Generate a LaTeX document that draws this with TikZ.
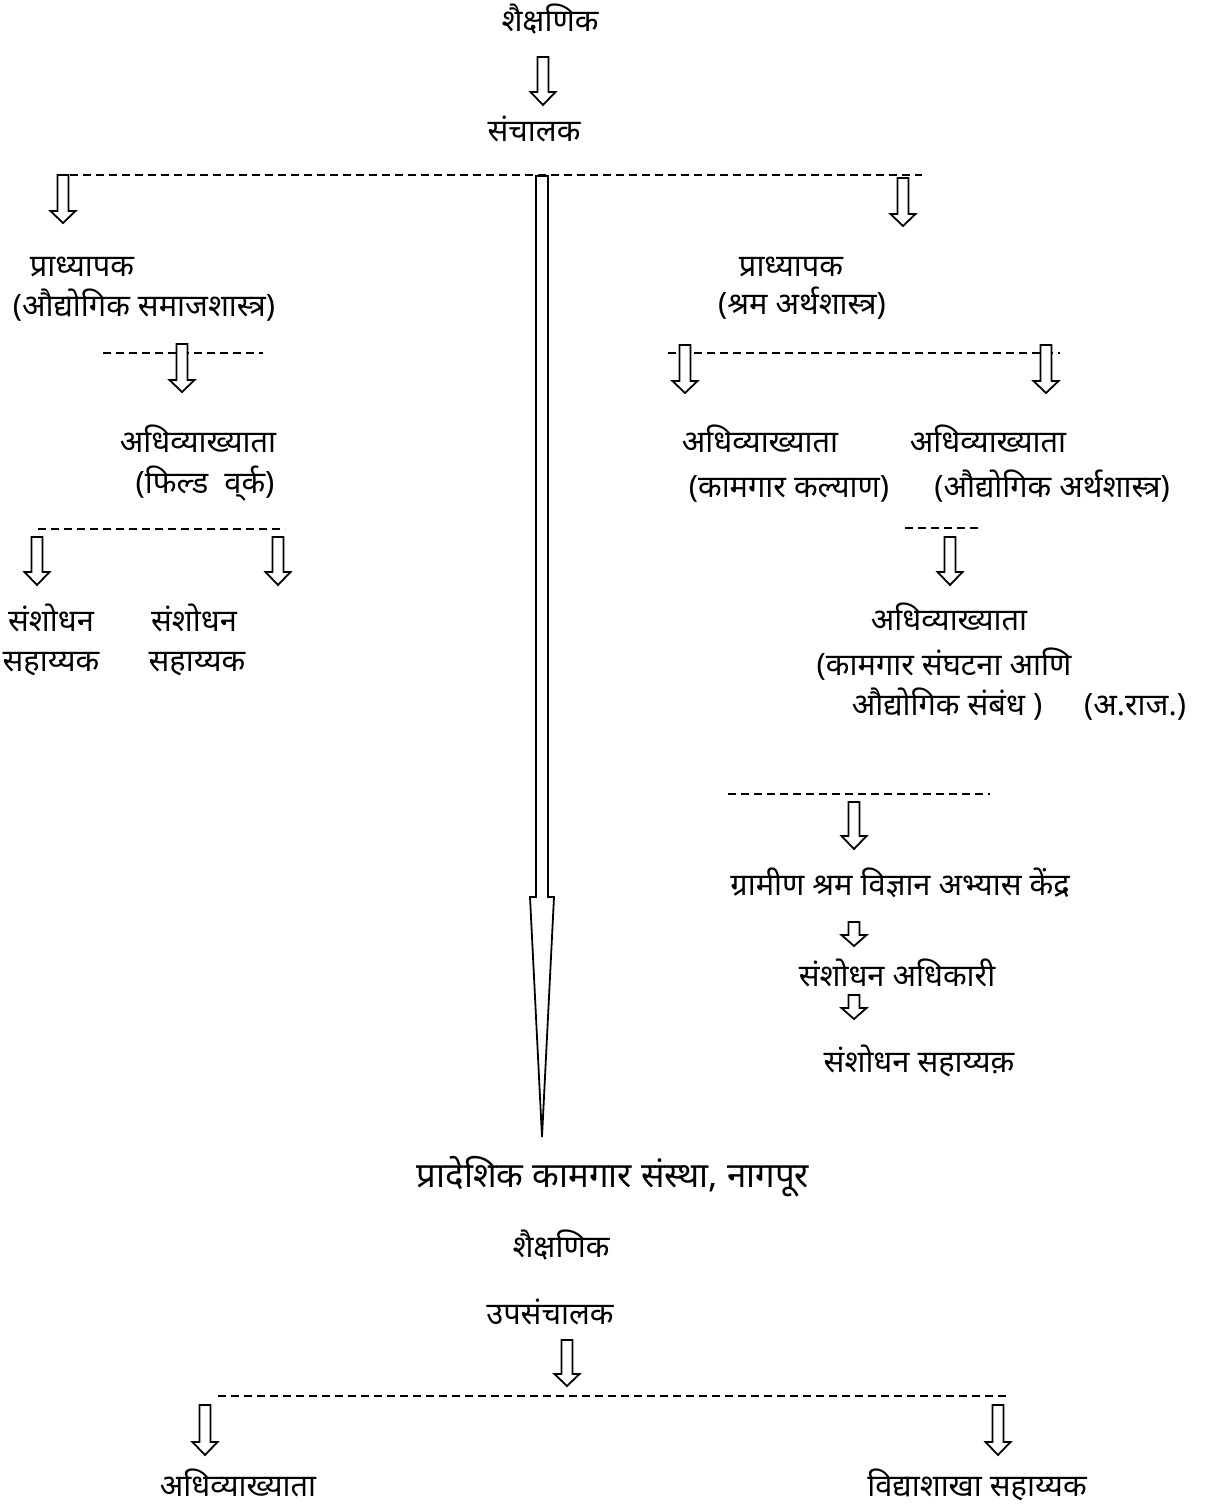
\documentclass[tikz,border=0pt]{standalone}
\usepackage{fontspec}
\newfontfamily\dev[Script=Devanagari]{Noto Sans}
\tikzset{
  lbl/.style={font={\dev\fontsize{15.4}{18}\selectfont}, inner sep=0pt, anchor=base},
  big/.style={lbl, font={\dev\fontsize{17.4}{21}\selectfont}},
  blk/.style={draw=black, fill=white, line width=0.9pt, line join=miter},
  dsh/.style={draw=black, line width=0.65pt, dash pattern=on 4pt off 2.5pt}
}
\newcommand\blkarr[5]{% name, x, ytop, ytip, head length
  \coordinate (#1) at (#2,#3);
  \draw[blk] (#2-5.5,#3) -- (#2+5.5,#3) -- (#2+5.5,#4-#5) -- (#2+12.5,#4-#5)
    -- (#2,#4) -- (#2-12.5,#4-#5) -- (#2-5.5,#4-#5) -- cycle;}
\begin{document}
\begin{tikzpicture}[x=0.5pt,y=-0.5pt]
\path[use as bounding box] (0,0) rectangle (1204,1507);

% texts
\node[lbl] (t1) at (550,32) {शैक्षणिक};
\node[lbl] (t2) at (534,142) {संचालक};

\node[lbl] (lp1) at (82,277) {प्राध्यापक};
\node[lbl] (lp2) at (144,317) {(औद्योगिक समाजशास्त्र)};
\node[lbl] (ll1) at (198,453) {अधिव्याख्याता};
\node[lbl] (ll2) at (205,494) {(फिल्ड\ \ व्^^^^200cर्क)};
\node[lbl] (sa1) at (51,631) {संशोधन};
\node[lbl] (sa2) at (51,671) {सहाय्यक};
\node[lbl] (sb1) at (194,631) {संशोधन};
\node[lbl] (sb2) at (197,671) {सहाय्यक};

\node[lbl] (rp1) at (791,277) {प्राध्यापक};
\node[lbl] (rp2) at (802,315) {(श्रम अर्थशास्त्र)};
\node[lbl] (ra1) at (760,453) {अधिव्याख्याता};
\node[lbl] (ra2) at (789,497) {(कामगार कल्याण)};
\node[lbl] (rb1) at (988,453) {अधिव्याख्याता};
\node[lbl] (rb2) at (1052,497) {(औद्योगिक अर्थशास्त्र)};
\node[lbl] (rc1) at (949,630) {अधिव्याख्याता};
\node[lbl] (rc2) at (944,675) {(कामगार संघटना आणि};
\node[lbl] (rc3) at (947,715) {औद्योगिक संबंध )};
\node[lbl] (rc4) at (1135,715) {(अ.राज.)};
\node[lbl] (g1) at (900,895) {ग्रामीण श्रम विज्ञान अभ्यास केंद्र};
\node[lbl] (g2) at (897,986) {संशोधन अधिकारी};
\node[lbl] (g3) at (919,1072) {संशोधन सहाय्यक़};

\node[big] (b0) at (613,1187) {प्रादेशिक कामगार संस्था, नागपूर};
\node[lbl] (b1) at (561,1257) {शैक्षणिक};
\node[lbl] (b2) at (550,1324) {उपसंचालक};
\node[lbl] (b3) at (238,1496) {अधिव्याख्याता};
\node[lbl] (b4) at (977,1496) {विद्याशाखा सहाय्यक};

% dashed lines
\draw[dsh] (70,175) -- (922,175);
\draw[dsh] (103,353) -- (263,353);
\draw[dsh] (668,353) -- (1060,353);
\draw[dsh] (38,529) -- (285,529);
\draw[dsh] (905,528) -- (980,528);
\draw[dsh] (728,794) -- (990,794);
\draw[dsh] (218,1396) -- (1010,1396);

% long central arrow
\draw[blk] (536,176) -- (548,176) -- (548,897) -- (554,897) -- (542,1137)
  -- (530,897) -- (536,897) -- cycle;

% block arrows
\blkarr{a1}{543}{57}{105}{13}
\blkarr{a2}{63}{175}{223}{12}
\blkarr{a3}{903}{178}{226}{12}
\blkarr{a4}{182}{344}{392}{12}
\blkarr{a5}{685}{345}{393}{12}
\blkarr{a6}{1046}{345}{393}{12}
\blkarr{a7}{37}{537}{585}{13}
\blkarr{a8}{278}{537}{585}{13}
\blkarr{a9}{950}{537}{585}{13}
\blkarr{a10}{854}{802}{849}{13}
\blkarr{a11}{854}{922}{946}{11}
\blkarr{a12}{854}{995}{1019}{11}
\blkarr{a13}{567}{1340}{1386}{12}
\blkarr{a14}{205}{1405}{1455}{13}
\blkarr{a15}{998}{1405}{1455}{13}
\end{tikzpicture}
\end{document}
